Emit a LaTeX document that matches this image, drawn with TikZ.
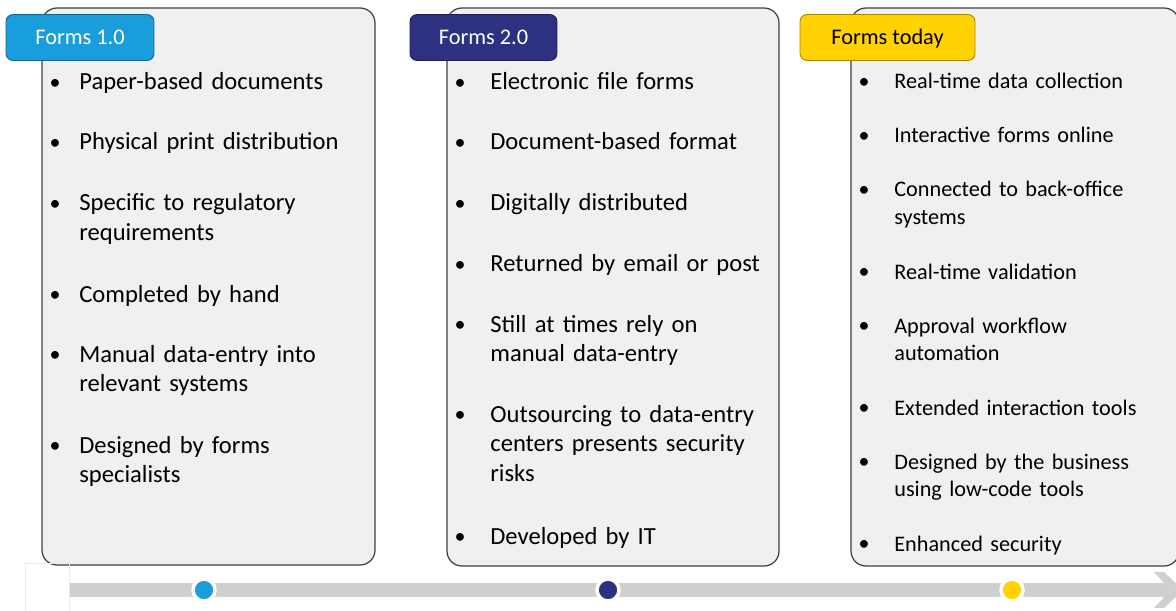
\documentclass[tikz,border=0pt]{standalone}
\usepackage{fontspec}
\setmainfont{Carlito}

\definecolor{formsblue}{HTML}{1A9DDB}
\definecolor{formsnavy}{HTML}{2E3081}
\definecolor{formsgold}{HTML}{FFD200}
\definecolor{panelgray}{HTML}{F0F0F0}
\definecolor{railgray}{HTML}{D0CFD0}

\tikzset{
  panel/.style={draw=black!75, fill=panelgray, line width=0.7pt, rounded corners=8.5pt},
  tag/.style={draw=#1!65!black, fill=#1, rounded corners=4pt, line width=0.5pt,
    minimum width=2.96cm, minimum height=0.92cm, inner sep=0pt,
    text height=0.85em, text depth=0.07em,
    font=\fontsize{12.7}{14}\selectfont},
  bul/.style={anchor=base, inner sep=0pt, font=\fontsize{12.5}{14}\selectfont, yshift=0.5pt},
  item/.style={anchor=base west, inner sep=0pt, align=left, text width=#1},
  big/.style={font=\fontsize{14}{17}\selectfont},
  small/.style={font=\fontsize{12.65}{15.9}\selectfont},
  milestone/.style={circle, fill=#1, draw=white, line width=2pt, minimum size=0.44cm, inner sep=0pt}
}

\begin{document}
\begin{tikzpicture}[x=0.02cm, y=-0.02cm]
	\useasboundingbox (0,0) rectangle (1176,611);

	% the three panels
	\draw[panel] (42,8) rectangle (375,565);
	\draw[panel] (447,8) rectangle (779,566);
	\draw[panel] (851,8) rectangle (1179,566);

	% era tags
	\node[tag=formsblue, text=white, minimum width=2.96cm] (old) at (80,37.5) {Forms 1.0};
	\node[tag=formsnavy, text=white, minimum width=2.94cm] (mid) at (483.5,37.5) {Forms 2.0};
	\node[tag=formsgold, text=black, minimum width=3.5cm] (now) at (887.5,37.5) {Forms today};

	% bullet lists
	\foreach \y/\txt [count=\i] in {90/Paper-based documents, 150/Physical print distribution,
		211/{Specific to regulatory\\requirements}, 302/Completed by hand,
		362/{Manual data-entry into\\relevant systems}, 453/{Designed by forms\\specialists}} {
		\node[bul] (oldb\i) at (55,\y) {\textbullet};
		\node[item=5.8cm, big] (oldt\i) at (79,\y) {\txt};
	}
	\foreach \y/\txt [count=\i] in {90/Electronic file forms, 150/Document-based format,
		211/Digitally distributed, 272/Returned by email or post,
		332/{Still at times rely on\\manual data-entry},
		422/{Outsourcing to data-entry\\centers presents security\\risks},
		544/Developed by IT} {
		\node[bul] (midb\i) at (460,\y) {\textbullet};
		\node[item=5.8cm, big] (midt\i) at (490,\y) {\txt};
	}
	\foreach \y/\txt [count=\i] in {89/Real-time data collection, 143/Interactive forms online,
		197/{Connected to back-office\\systems}, 279/Real-time validation,
		333/{Approval workflow\\automation}, 415/Extended interaction tools,
		469/{Designed by the business\\using low-code tools}, 551/Enhanced security} {
		\node[bul] (nowb\i) at (864,\y) {\textbullet};
		\node[item=5.6cm, small] (nowt\i) at (894,\y) {\txt};
	}

	% timeline
	\draw[black!8] (25,611) -- (25,563) -- (69,563) -- (69,611);
	\coordinate (railstart) at (70,590);
	\coordinate (railend) at (1170,590);
	\draw[railgray, line width=0.28cm] (railstart) -- (railend);
	\fill[railgray] (1154,572) -- (1164,572) -- (1183,590) -- (1164,608) -- (1154,608) -- (1171,590) -- cycle;

	\node[milestone=formsblue] (m1) at (204,590) {};
	\node[milestone=formsnavy] (m2) at (608,590) {};
	\node[milestone=formsgold] (m3) at (1012,590) {};
\end{tikzpicture}
\end{document}
